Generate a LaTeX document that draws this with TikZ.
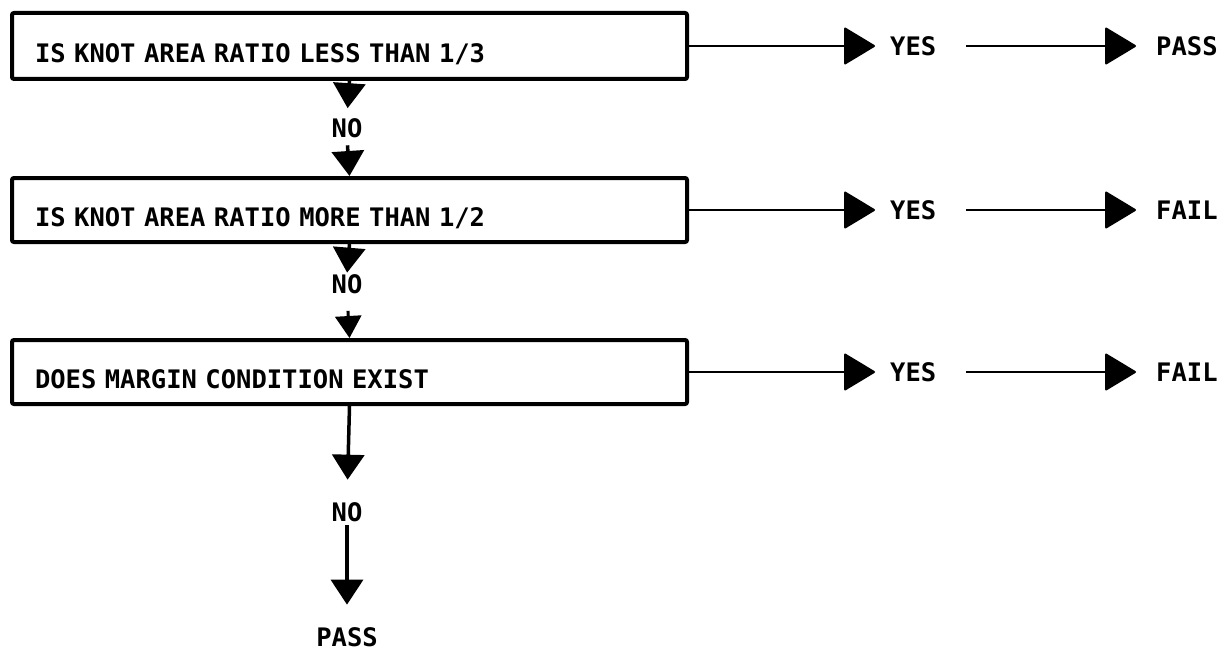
\documentclass[tikz,border=0pt]{standalone}
\usepackage{fontspec}
\newfontfamily\lblfont{DejaVu Sans Mono Bold}
\usetikzlibrary{arrows.meta}
\tikzset{
  lblsize/.style={font=\lblfont\fontsize{25.5pt}{26pt}\selectfont},
  qbox/.style={draw, line width=4pt, rounded corners=2pt, minimum width=675pt,
    minimum height=64pt, text width=629pt, inner xsep=23pt, inner ysep=0pt, align=left,
    text height=33pt, text depth=0pt, lblsize},
  lab/.style={inner sep=0pt, lblsize},
  harr/.style={line width=2.2pt, -{Triangle[length=32pt,width=38pt,round]}},
  varr/.style={line width=3.5pt, -{Triangle[length=25pt,width=32pt]}},
  varrs/.style={line width=3pt, -{Triangle[length=22pt,width=26pt]}}
}
\begin{document}
\begin{tikzpicture}[x=1pt,y=-1pt]
\useasboundingbox (0,0) rectangle (1226,650);
\node[qbox, minimum height=66pt] (b1) at (349.5,46) {IS KNOT AREA RATIO LESS THAN 1/3};
\node[qbox] (b2) at (349.5,210) {IS KNOT AREA RATIO MORE THAN 1/2};
\node[qbox] (b3) at (349.5,372) {DOES MARGIN CONDITION EXIST};
\node[lab] (no1) at (347,128) {NO};
\node[lab] (no2) at (347,284) {NO};
\node[lab] (no3) at (347,512) {NO};
\node[lab] (pass4) at (347,637) {PASS};
\node[lab, anchor=west] (yes1) at (890,46) {YES};
\node[lab, anchor=west] (yes2) at (890,210) {YES};
\node[lab, anchor=west] (yes3) at (890,372) {YES};
\node[lab, anchor=west] (r1) at (1156,46) {PASS};
\node[lab, anchor=west] (r2) at (1156,210) {FAIL};
\node[lab, anchor=west] (r3) at (1156,372) {FAIL};
\draw[varr, shorten >=10pt] (b1.south) -- (no1.north);
\draw[varr, shorten <=7.5pt] (no1.south) -- (b2.north);
\draw[varr, shorten >=1.5pt] (b2.south) -- (no2.north);
\draw[varrs, shorten <=17pt] (no2.south) -- (b3.north);
\draw[varr, shorten >=22.5pt] (b3.south) -- (no3.north);
\draw[varr, shorten <=3.5pt, shorten >=22.5pt] (no3.south) -- (pass4.north);
\foreach \i in {1,2,3}{
  \draw[harr, shorten >=15pt] (b\i.east) -- (yes\i.west);
  \draw[harr, shorten <=30pt, shorten >=20pt] (yes\i.east) -- (r\i.west);
}
\end{tikzpicture}
\end{document}
